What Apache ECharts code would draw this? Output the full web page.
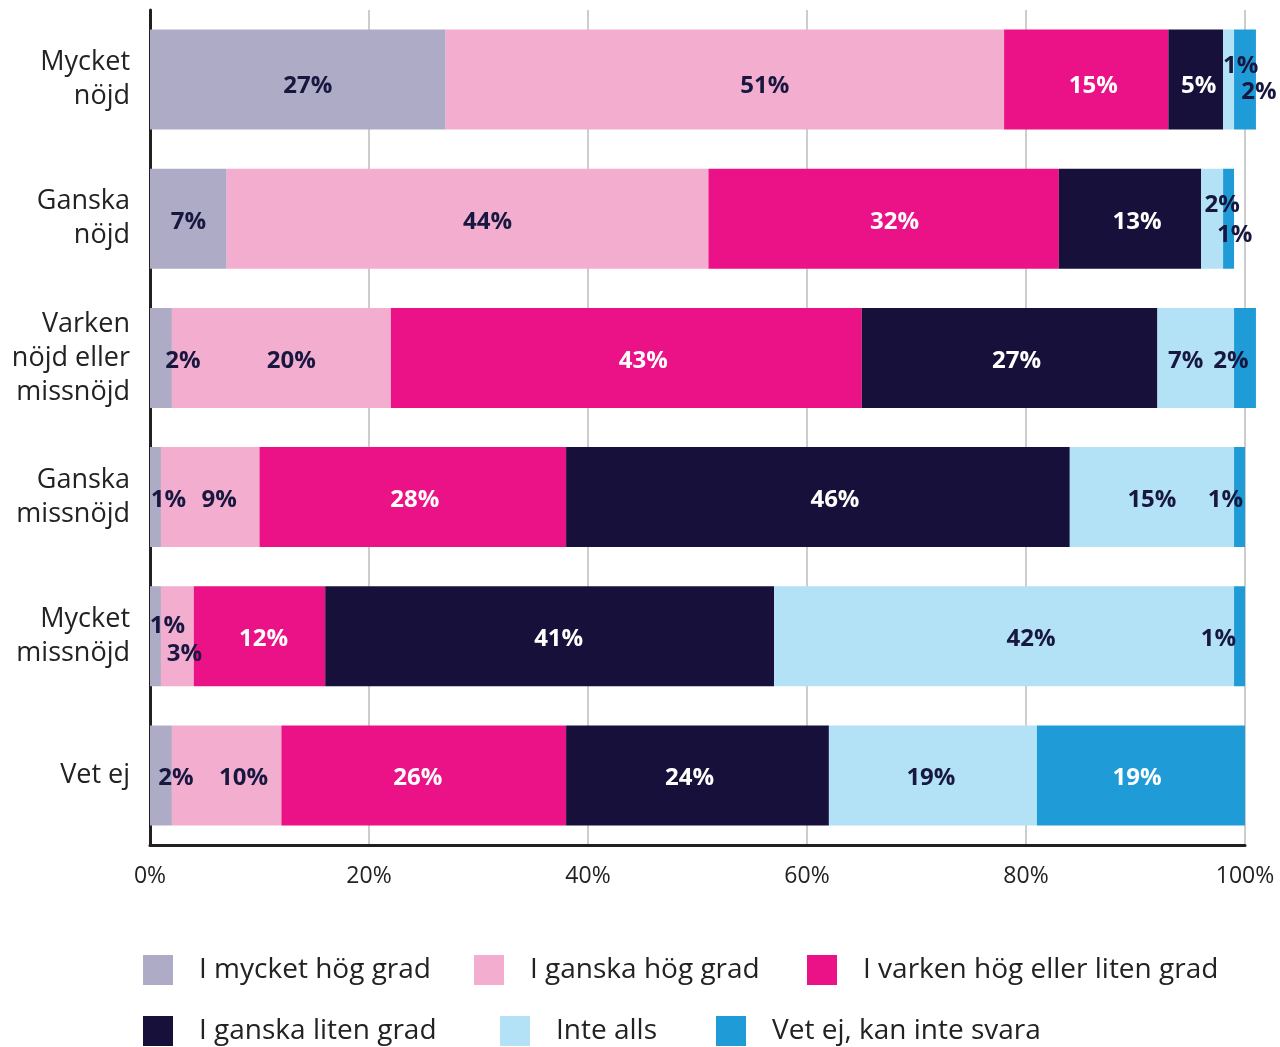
<!DOCTYPE html>
<html>
<head>
<meta charset="utf-8">
<script src="https://cdn.jsdelivr.net/npm/echarts@6/dist/echarts.min.js"></script>
<style>
    html, body { margin: 0; padding: 0; background: #fff; }
    #chart { width: 1280px; height: 1047px; }
</style>
</head>
<body>
<div id="chart"></div>
<script>
// kategorier (uppifrån och ned)
const categories = ['Mycket\nnöjd', 'Ganska\nnöjd', 'Varken\nnöjd eller\nmissnöjd', 'Ganska\nmissnöjd', 'Mycket\nmissnöjd', 'Vet ej'];

// svarsalternativ
const seriesNames = ['I mycket hög grad', 'I ganska hög grad', 'I varken hög eller liten grad', 'I ganska liten grad', 'Inte alls', 'Vet ej, kan inte svara'];

// andelar i procent, en lista per svarsalternativ
const veryHigh = [27, 7, 2, 1, 1, 2];
const fairlyHigh = [51, 44, 20, 9, 3, 10];
const neither = [15, 32, 43, 28, 12, 26];
const fairlyLow = [5, 13, 27, 46, 41, 24];
const notAtAll = [1, 2, 7, 15, 42, 19];
const dontKnow = [2, 1, 2, 1, 1, 19];

const xTicks = [0, 20, 40, 60, 80, 100];

const colors = ['#ADABC5', '#F2ADCF', '#EB1287', '#17103B', '#B3E1F6', '#1F9CD8'];
const labelColors = ['#17173F', '#17173F', '#fff', '#fff', '#17173F', '#17173F'];

// förskjutning av etiketter, nyckel "rad-serie"
const labelShift = {
    '0-0': [10, 4], '0-1': [40, 4], '0-2': [7, 4], '0-3': [3, 4], '0-4': [12, -16], '0-5': [14, 10],
    '1-1': [20, 0], '1-2': [11, 0], '1-3': [7, 0], '1-4': [10, -17], '1-5': [6, 13],
    '2-0': [22, 0], '2-1': [10, 0], '2-2': [17, 0], '2-3': [7, 0], '2-4': [-10, 0], '2-5': [-14, 0],
    '3-0': [13, 0], '3-1': [9, 0], '3-2': [2, 0], '3-3': [17, 0], '3-5': [-14, 0],
    '4-0': [12, -13], '4-1': [7, 15], '4-2': [4, 0], '4-3': [9, 0], '4-4': [27, 0], '4-5': [-21, 0],
    '5-0': [15, 0], '5-1': [17, 0], '5-2': [-6, 0], '5-3': [-8, 0], '5-4': [-2, 0], '5-5': [-4, 0]
};

// legendens placering
const legendPos = [[143, 955], [474, 955], [807, 955], [143, 1016], [500, 1016], [716, 1016]];

const FONT = 'Open Sans';

const initChart = function () {
    const allData = [veryHigh, fairlyHigh, neither, fairlyLow, notAtAll, dontKnow];

    const series = allData.map(function (values, s) {
        return {
            name: seriesNames[s],
            type: 'bar',
            stack: 'total',
            barWidth: 100,
            clip: false,
            itemStyle: { color: colors[s] },
            label: {
                show: true,
                position: 'inside',
                formatter: '{c}%',
                fontFamily: FONT,
                fontWeight: 'bold',
                fontSize: 24,
                color: labelColors[s]
            },
            labelLayout: function (params) {
                const shift = labelShift[params.dataIndex + '-' + s] || [0, 0];
                return { dx: shift[0], dy: shift[1] + 3, hideOverlap: false };
            },
            data: values.map(function (v, r) {
                // Vet ej-raden: vit text på blått
                if (s === 5 && r === 5) {
                    return { value: v, label: { color: '#fff' } };
                }
                return v;
            })
        };
    });

    const legends = seriesNames.map(function (name, i) {
        return {
            data: [name],
            left: legendPos[i][0],
            top: legendPos[i][1],
            padding: 0,
            icon: 'rect',
            itemWidth: 30,
            itemHeight: 30,
            selectedMode: false,
            textStyle: {
                fontFamily: FONT,
                fontSize: 28,
                color: '#222',
                padding: [0, 0, 0, 21]
            }
        };
    });

    const option = {
        animation: false,
        backgroundColor: '#fff',
        legend: legends,
        grid: {
            left: 150,
            right: 35,
            top: 10,
            bottom: 202,
            containLabel: false
        },
        xAxis: {
            type: 'value',
            min: xTicks[0],
            max: xTicks[xTicks.length - 1],
            interval: 20,
            axisLine: { show: true, lineStyle: { color: '#231F20', width: 3 } },
            axisTick: { show: false },
            splitLine: { show: true, lineStyle: { color: '#BDBDBD', width: 1.5 } },
            axisLabel: {
                formatter: '{value}%',
                fontFamily: FONT,
                fontSize: 23,
                color: '#222',
                margin: 20
            }
        },
        yAxis: {
            type: 'category',
            inverse: true,
            data: categories,
            axisLine: { show: true, lineStyle: { color: '#231F20', width: 3 } },
            axisTick: { show: false },
            axisLabel: {
                fontFamily: FONT,
                fontSize: 27,
                lineHeight: 34,
                color: '#222',
                align: 'right',
                margin: 20,
                padding: [0, 0, 14, 0]
            }
        },
        series: series
    };

    const chart = echarts.init(document.getElementById('chart'));
    chart.setOption(option);
};

initChart();
</script>
</body>
</html>
